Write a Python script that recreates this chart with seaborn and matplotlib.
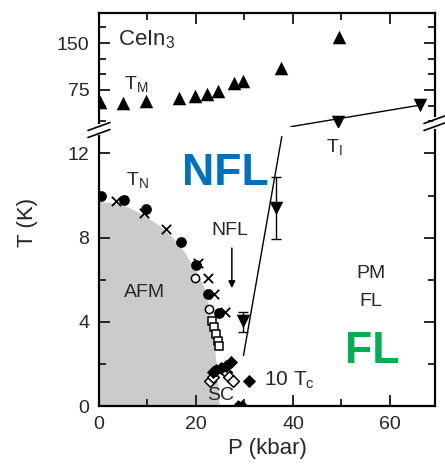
import matplotlib
matplotlib.use("Agg")
import matplotlib.pyplot as plt
import numpy as np
import pandas as pd
import seaborn as sns

# ---- data (P in kbar, T in K) ----
tm_p = [0.2, 4.9, 9.7, 16.6, 19.9, 22.2, 24.6, 27.9, 29.8, 37.6, 49.5]
tm_t = [55.8, 54.3, 57.4, 62.2, 65.4, 68.6, 73.4, 86.2, 89.4, 110.0, 159.6]

ti_p = [49.3, 66.3]
ti_t = [23.9, 51.0]
ti_line_p = [39.6, 66.3]
ti_line_t = [16.5, 51.0]

tn_circ_p = [0.4, 5.1, 9.6, 17.0, 20.1, 22.4, 24.8]
tn_circ_t = [10.0, 9.8, 9.35, 7.8, 6.7, 5.3, 4.4]
tn_cross_p = [3.6, 9.3, 13.9, 20.5, 22.4, 23.8, 26.0]
tn_cross_t = [9.75, 9.15, 8.4, 6.8, 6.1, 5.3, 4.45]
tn_open_p = [19.7, 22.6]
tn_open_t = [6.1, 4.6]

sq_p = [23.4, 23.8, 24.2, 24.5, 24.8]
sq_t = [4.05, 3.75, 3.4, 3.1, 2.85]

tc10_p = [23.5, 24.2, 25.2, 26.2, 27.2, 30.9]
tc10_t = [1.6, 1.7, 1.8, 1.9, 2.1, 1.2]
tc_p = [22.8, 23.5, 26.2, 26.9, 27.6]
tc_t = [1.2, 1.4, 1.6, 1.4, 1.2]
tc0_p = [28.6, 29.4]
tc0_t = [0.08, 0.08]

tx_p = [29.6, 36.5]
tx_t = [4.05, 9.4]
tx_lo = [0.55, 1.45]
tx_hi = [0.4, 1.5]
nfl_line_p = [29.8, 37.7]
nfl_line_t = [2.4, 12.8]

afm_p = [0, 3, 6, 9, 12, 15, 17.5, 19.5, 21.0, 21.8, 22.6, 23.3, 23.8, 24.4, 24.8]
afm_t = [9.72, 9.65, 9.45, 9.1, 8.65, 8.05, 7.35, 6.6, 6.0, 5.5, 4.7, 3.6, 2.8, 1.5, 0.0]

sns.set_style("ticks")
plt.rcParams["font.family"] = ["Liberation Sans", "DejaVu Sans"]
plt.rcParams["mathtext.fontset"] = "custom"
plt.rcParams["mathtext.rm"] = "Liberation Sans"
plt.rcParams["mathtext.it"] = "Liberation Sans"

W, H = 445, 465
fig = plt.figure(figsize=(W / 100, H / 100), dpi=100)
x0, x1, yb, ybrk, ytop = 99, 435, 406, 127, 13
ax = fig.add_axes([x0 / W, (H - yb) / H, (x1 - x0) / W, (yb - ybrk) / H])
axt = fig.add_axes([x0 / W, (H - ybrk) / H, (x1 - x0) / W, (ybrk - ytop) / H], sharex=ax)

for a in (ax, axt):
    for s in a.spines.values():
        s.set_linewidth(1.6)
        s.set_color("black")
    a.tick_params(direction="in", which="both", top=True, right=True,
                  labelsize=14, width=1.4, pad=7)
    a.tick_params(which="major", length=8)
    a.tick_params(which="minor", length=5)
ax.spines["top"].set_visible(False)
axt.spines["bottom"].set_visible(False)
ax.tick_params(top=False, which="both")
axt.tick_params(bottom=False, labelbottom=False, which="both")

ax.set_xlim(0, 69.3)
ax.set_ylim(0, (yb - ybrk) / 21.05)
axt.set_ylim(75 - (ybrk - 90) * 1.596, 150 + (43 - ytop) * 1.596)
ax.set_xticks([0, 20, 40, 60])
ax.set_xticks([10, 30, 50], minor=True)
ax.set_yticks([0, 4, 8, 12])
ax.set_yticks([2, 6, 10], minor=True)
axt.set_yticks([75, 150])
axt.set_yticks([25, 50, 100, 125, 175], minor=True)

# AFM region
ax.fill_between(afm_p, afm_t, 0, color="#cbcbcb", lw=0, zorder=0)

# top panel: T_M and T_I
sns.scatterplot(x=tm_p, y=tm_t, ax=axt, marker="^", s=95, color="black",
                edgecolor="black", linewidth=0, legend=False)
sns.lineplot(x=ti_line_p, y=ti_line_t, ax=axt, color="black", lw=1.0, sort=False)
sns.scatterplot(x=ti_p, y=ti_t, ax=axt, marker="v", s=95, color="black",
                edgecolor="black", linewidth=0, legend=False)

# bottom panel
sns.lineplot(x=nfl_line_p, y=nfl_line_t, ax=ax, color="black", lw=1.0, sort=False)
ax.errorbar(tx_p, tx_t, yerr=[tx_lo, tx_hi], fmt="none", ecolor="black",
            elinewidth=1.0, capsize=3.5)
sns.scatterplot(x=tx_p, y=tx_t, ax=ax, marker="v", s=95, color="black",
                edgecolor="black", linewidth=0, legend=False, zorder=3)
sns.scatterplot(x=tn_circ_p, y=tn_circ_t, ax=ax, marker="o", s=60, color="black",
                edgecolor="black", linewidth=0, legend=False, zorder=3)
sns.scatterplot(x=tn_cross_p, y=tn_cross_t, ax=ax, marker="x", s=45, color="black",
                linewidth=1.3, legend=False, zorder=3)
sns.scatterplot(x=tn_open_p, y=tn_open_t, ax=ax, marker="o", s=35, facecolor="white",
                edgecolor="black", linewidth=1.1, legend=False, zorder=3)
sns.scatterplot(x=sq_p, y=sq_t, ax=ax, marker="s", s=35, facecolor="white",
                edgecolor="black", linewidth=1.1, legend=False, zorder=3)
sns.scatterplot(x=tc_p, y=tc_t, ax=ax, marker="D", s=35, facecolor="white",
                edgecolor="black", linewidth=1.1, legend=False, zorder=3)
sns.scatterplot(x=tc10_p, y=tc10_t, ax=ax, marker="D", s=45, color="black",
                edgecolor="black", linewidth=0, legend=False, zorder=4)
sns.scatterplot(x=tc0_p, y=tc0_t, ax=ax, marker="D", s=20, color="black",
                edgecolor="black", linewidth=0, legend=False, zorder=4)

# arrow for NFL label
ax.annotate("", xy=(27.4, 5.6), xytext=(27.4, 7.5),
            arrowprops=dict(arrowstyle="-|>", color="black", lw=1.1,
                            mutation_scale=10, shrinkA=0, shrinkB=0))

# labels
axt.text(4.0, 155, "CeIn$_3$", fontsize=16, va="center", ha="left")
axt.text(5.2, 85, "T$_\\mathrm{M}$", fontsize=14, va="center", ha="left")
ax.text(46.8, 12.3, "T$_\\mathrm{I}$", fontsize=14, va="center", ha="left")
ax.text(5.5, 10.75, "T$_\\mathrm{N}$", fontsize=14, va="center", ha="left")
ax.text(27.0, 8.35, "NFL", fontsize=14, va="center", ha="center")
ax.text(9.4, 5.4, "AFM", fontsize=14, va="center", ha="center")
ax.text(56.0, 6.3, "PM", fontsize=14, va="center", ha="center")
ax.text(56.0, 4.95, "FL", fontsize=14, va="center", ha="center")
ax.text(34.0, 1.2, "10 T$_\\mathrm{c}$", fontsize=15, va="center", ha="left")
ax.text(22.3, 0.5, "SC", fontsize=14, va="center", ha="left")
ax.text(26.0, 11.05, "NFL", fontsize=32, fontweight="bold", color="#0070C0",
        va="center", ha="center")
ax.text(56.3, 2.6, "FL", fontsize=32, fontweight="bold", color="#00B050",
        va="center", ha="center")

ax.set_xlabel("P (kbar)", fontsize=16, labelpad=4)
fig.text(27 / W, (H - 222) / H, "T (K)", fontsize=16, rotation=90,
         va="center", ha="center")

# axis break marks
for xp, yp in [(x0, 130), (x1, 123)]:
    fx, fy = xp / W, (H - yp) / H
    dx, dy, g = 11 / W, 4 / H, 3.5 / H
    fig.add_artist(plt.Line2D([fx, fx], [fy - g, fy + g], color="white", lw=3))
    for off in (-g, g):
        fig.add_artist(plt.Line2D([fx - dx, fx + dx], [fy + off - dy, fy + off + dy],
                                  color="black", lw=1.2))

fig.savefig("out.png", dpi=100)
